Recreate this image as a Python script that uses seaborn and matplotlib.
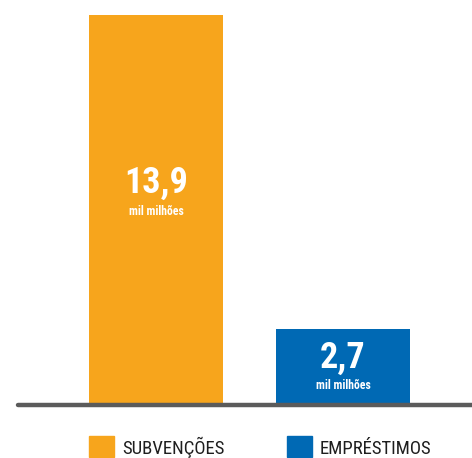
import matplotlib
matplotlib.use("Agg")
import matplotlib.pyplot as plt
import seaborn as sns
import pandas as pd
from matplotlib.patches import Rectangle

categories = ["SUBVENÇÕES", "EMPRÉSTIMOS"]
values = [13.9, 2.7]
value_labels = ["13,9", "2,7"]
unit_label = "mil milhões"
colors = ["#F7A51C", "#0069B4"]

sns.set_theme(style="white")
FONT = ['Roboto Condensed', 'Liberation Sans Narrow', 'DejaVu Sans']
plt.rcParams['font.family'] = FONT

df = pd.DataFrame({"cat": categories, "val": values})

W, H = 472, 458
fig = plt.figure(figsize=(W / 100, H / 100), dpi=100)
base_y = (H - 405) / H
ax = fig.add_axes([18 / W, base_y, 1 - 18 / W, 1 - base_y])
sns.barplot(data=df, x="cat", y="val", hue="cat", palette=colors, width=0.7166,
            legend=False, ax=ax, saturation=1, linewidth=0)
ax.set_xlim(-0.738, 1.690)
ax.set_ylim(0, 13.9 * 405 / 390)
ax.axis("off")
ax.axhline(0, color="#5b5b5b", lw=3.2, clip_on=False, zorder=5)

ppd = 390 / 13.9  # pixels per data unit
label_y = [(405 - 193) / ppd, (405 - 368) / ppd]   # baselines of value labels
unit_y = [(405 - 215) / ppd, (405 - 389) / ppd]    # baselines of unit labels
for i in range(2):
    ax.text(i, label_y[i], value_labels[i], color="white", ha="center", va="baseline",
            fontsize=26, fontweight="bold")
    ax.text(i, unit_y[i], unit_label, color="white", ha="center", va="baseline",
            fontsize=8.5, fontweight="bold")

# legend
leg_items = [(89, categories[0], colors[0]), (287, categories[1], colors[1])]
for x0, lab, c in leg_items:
    fig.patches.append(Rectangle((x0 / W, (H - 457) / H), 25 / W, 21 / H,
                                 transform=fig.transFigure, color=c, figure=fig))
    fig.text((x0 + 33) / W, (H - 453.5) / H, lab, color="#1e1e1e", ha="left", va="baseline",
             fontsize=13.5)

fig.savefig("out.png", dpi=100)
